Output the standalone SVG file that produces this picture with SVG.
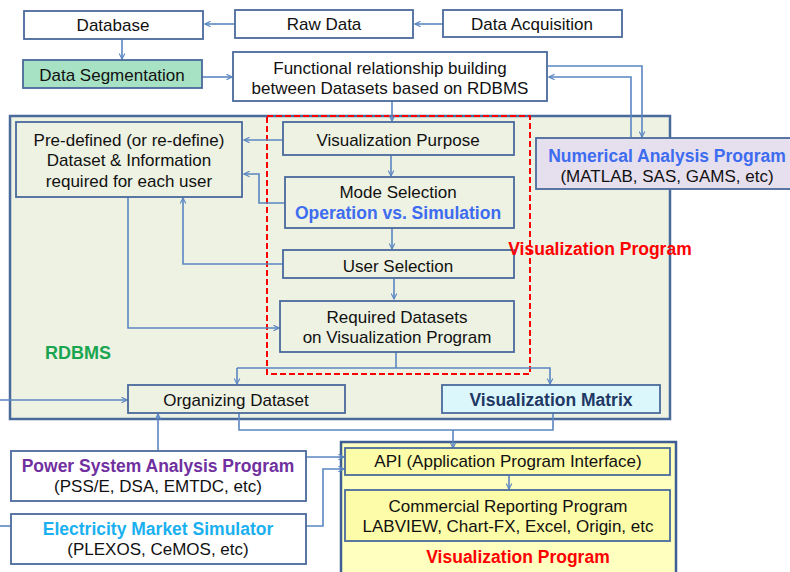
<svg xmlns="http://www.w3.org/2000/svg" width="790" height="572" viewBox="0 0 790 572">
<defs>
<style>
.box{fill:#ffffff;stroke:#4a6a9c;stroke-width:1.8}
.t{font-family:"Liberation Sans","Noto Sans","DejaVu Sans",sans-serif;font-size:17px;fill:#111111;text-anchor:middle}
.b{font-weight:bold;font-size:17.5px}
.c{fill:none;stroke:#5a86c2;stroke-width:1.6}
.ca{fill:none;stroke:#5a86c2;stroke-width:1.6;marker-end:url(#ah)}
</style>
<marker id="ah" viewBox="0 0 10 10" refX="9" refY="5" markerWidth="7" markerHeight="7" markerUnits="userSpaceOnUse" orient="auto">
<path d="M1,1 L9,5 L1,9" fill="none" stroke="#5a86c2" stroke-width="1.6"/>
</marker>
</defs>
<rect x="0" y="0" width="790" height="572" fill="#ffffff"/>

<g id="rdbms-container">
<rect x="10" y="116" width="660" height="303" fill="#eef2e3" stroke="#4a6a9c" stroke-width="2.5"/>
<text class="t b" x="78" y="359" style="fill:#1aa650;font-size:18px">RDBMS</text>
</g>

<g id="vis-program-box">
<rect x="341" y="442" width="335" height="140" fill="#ffffc0" stroke="#3f5f94" stroke-width="2.5"/>
<text class="t b" x="518" y="563" style="fill:#ff0000">Visualization Program</text>
</g>

<g id="red-dashed">
<rect x="267" y="116" width="263" height="258" fill="none" stroke="#ff0000" stroke-width="2" stroke-dasharray="6,3"/>
</g>

<g id="connectors">
<path class="ca" d="M234,24 H205"/>
<path class="ca" d="M443,24 H415"/>
<path class="ca" d="M122,39 V59"/>
<path class="ca" d="M202,77 H232"/>
<path class="ca" d="M548,66 H642 V137"/>
<path class="ca" d="M631,137 V77 H549"/>
<path class="ca" d="M392,101 V121"/>
<path class="ca" d="M283,140 H244"/>
<path class="ca" d="M391,155 V176"/>
<path class="ca" d="M285,203 H259 V174 H244"/>
<path class="ca" d="M392,228 V249"/>
<path class="ca" d="M283,264 H183 V198"/>
<path class="ca" d="M394,279 V299"/>
<path class="ca" d="M128,197 V328 H279"/>
<path class="c" d="M396,352 V368"/>
<path class="ca" d="M237,368 H550 V384"/>
<path class="ca" d="M237,368 V384"/>
<path class="ca" d="M0,400 H127"/>
<path class="ca" d="M158,451 V414"/>
<path class="c" d="M239,413 V430 H553 V413"/>
<path class="ca" d="M453,430 V448"/>
<path class="ca" d="M306,457 H344"/>
<path class="ca" d="M306,526 H323 V469 H344"/>
<path class="c" d="M0,526 H11"/>
<path class="ca" d="M509,475 V489"/>
</g>

<g id="database">
<rect class="box" x="24" y="11" width="179" height="28"/>
<text class="t" x="113" y="31">Database</text>
</g>
<g id="raw-data">
<rect class="box" x="235" y="10" width="178" height="28"/>
<text class="t" x="324" y="30">Raw Data</text>
</g>
<g id="data-acquisition">
<rect class="box" x="443" y="10" width="179" height="27"/>
<text class="t" x="532" y="30">Data Acquisition</text>
</g>
<g id="data-segmentation">
<rect class="box" x="23" y="60" width="179" height="28" style="fill:#a7e2c4"/>
<text class="t" x="112" y="81">Data Segmentation</text>
</g>
<g id="functional">
<rect class="box" x="233" y="52" width="314" height="49"/>
<text class="t" x="390" y="74">Functional relationship building</text>
<text class="t" x="390" y="94">between Datasets based on RDBMS</text>
</g>
<g id="numerical">
<rect class="box" x="536" y="138" width="260" height="51" style="fill:#e6e0ee"/>
<text class="t b" x="667" y="162" style="fill:#3d6cf0">Numerical Analysis Program</text>
<text class="t" x="667" y="182">(MATLAB, SAS, GAMS, etc)</text>
</g>
<g id="predefined">
<rect class="box" x="16" y="122" width="226" height="75" style="fill:#eef2e3"/>
<text class="t" x="129" y="146">Pre-defined (or re-define)</text>
<text class="t" x="129" y="166">Dataset &amp; Information</text>
<text class="t" x="129" y="187">required for each user</text>
</g>
<g id="vis-purpose">
<rect class="box" x="283" y="122" width="231" height="33" style="fill:#eef2e3"/>
<text class="t" x="398" y="146">Visualization Purpose</text>
</g>
<g id="mode-selection">
<rect class="box" x="285" y="177" width="229" height="51" style="fill:#eef2e3"/>
<text class="t" x="398" y="198">Mode Selection</text>
<text class="t b" x="398" y="219" style="fill:#3d6cf0">Operation vs. Simulation</text>
</g>
<g id="user-selection">
<rect class="box" x="283" y="250" width="231" height="28" style="fill:#eef2e3"/>
<text class="t" x="398" y="272">User Selection</text>
</g>
<g id="required-datasets">
<rect class="box" x="280" y="301" width="234" height="51" style="fill:#eef2e3"/>
<text class="t" x="397" y="323">Required Datasets</text>
<text class="t" x="397" y="343">on Visualization Program</text>
</g>
<g id="vis-program-label">
<text class="t b" x="600" y="255" style="fill:#ff0000">Visualization Program</text>
</g>
<g id="organizing">
<rect class="box" x="128" y="385" width="217" height="28" style="fill:#eef2e3"/>
<text class="t" x="236" y="406">Organizing Dataset</text>
</g>
<g id="vis-matrix">
<rect class="box" x="442" y="385" width="218" height="28" style="fill:#dbf7fc"/>
<text class="t b" x="551" y="406" style="fill:#1f3864">Visualization Matrix</text>
</g>
<g id="power-system">
<rect class="box" x="11" y="451" width="295" height="50"/>
<text class="t b" x="158" y="472" style="fill:#7030a0">Power System Analysis Program</text>
<text class="t" x="158" y="492">(PSS/E, DSA, EMTDC, etc)</text>
</g>
<g id="market-sim">
<rect class="box" x="11" y="514" width="295" height="50"/>
<text class="t b" x="158" y="535" style="fill:#1ab0ef">Electricity Market Simulator</text>
<text class="t" x="158" y="555">(PLEXOS, CeMOS, etc)</text>
</g>
<g id="api">
<rect class="box" x="345" y="448" width="325" height="27" style="fill:#fdfca8"/>
<text class="t" x="508" y="467">API (Application Program Interface)</text>
</g>
<g id="commercial">
<rect class="box" x="345" y="490" width="325" height="51" style="fill:#fdfca8"/>
<text class="t" x="508" y="512">Commercial Reporting Program</text>
<text class="t" x="508" y="532">LABVIEW, Chart-FX, Excel, Origin, etc</text>
</g>
</svg>
